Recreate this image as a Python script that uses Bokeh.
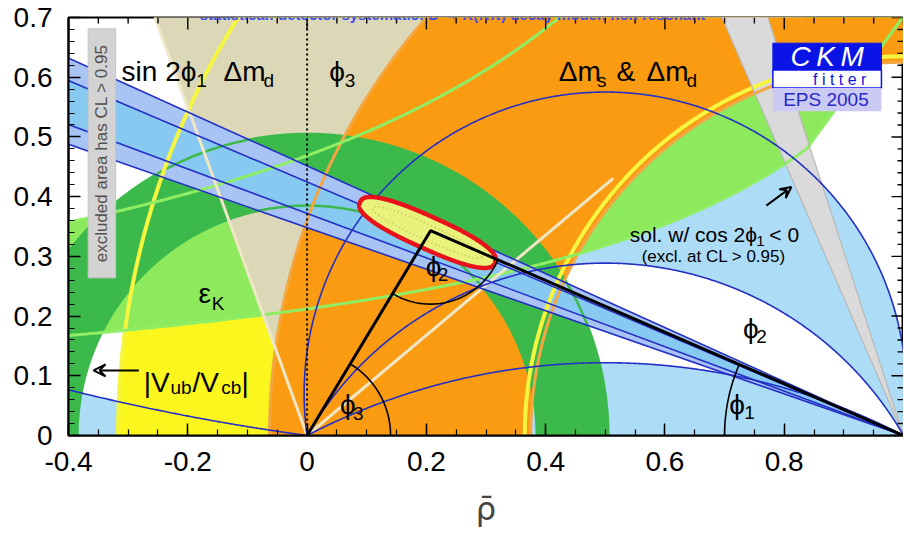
import numpy as np
from bokeh.plotting import figure
from bokeh.models import (Range1d, FixedTicker, Arrow, VeeHead, Label,
                          CustomJSTickFormatter, ColumnDataSource)
from bokeh.core.properties import value
from bokeh.embed import file_html
from bokeh.resources import INLINE

FONT = "Liberation Sans"
BORDER_L, BORDER_T, BORDER_B = 68, 17, 104
PLOT_W, PLOT_H = 903, 539
FRAME_W = PLOT_W - BORDER_L
FRAME_H = PLOT_H - BORDER_T - BORDER_B
X0, X1, Y0, Y1 = -0.4, 1.0, 0.0, 0.7

# ---------------- axes ----------------
x_ticks = [-0.4, -0.2, 0.0, 0.2, 0.4, 0.6, 0.8]
x_tick_labels = ["-0.4", "-0.2", "0", "0.2", "0.4", "0.6", "0.8"]
x_minor_step = 0.05
y_ticks = [0.0, 0.1, 0.2, 0.3, 0.4, 0.5, 0.6, 0.7]
y_tick_labels = ["0", "0.1", "0.2", "0.3", "0.4", "0.5", "0.6", "0.7"]
y_minor_step = 0.02

# ---------------- constraints (rho-bar, eta-bar plane) ----------------
vub_center = [0.0, 0.0]          # |Vub/Vcb| ring
vub_radii = [0.385, 0.505]
dmd_center = [1.0, 0.0]          # Delta m_d ring
dmd_radii = [0.635, 1.317]
dms_center = [1.0, 0.0]          # Delta m_s & Delta m_d ring
dms_radii = [0.625, 1.063]
epsk_k = [0.318, 0.600]          # eps_K hyperbolae  eta = k / (a - rho)
epsk_a = [1.50, 1.28]
epsk_edge_rho = [0.830, 0.975]
epsk_edge_eta = [0.470, 0.668]
sin2b_beta_95 = [19.2, 24.3]     # deg, main sin2phi1 solution
sin2b_beta_68 = [20.4, 23.0]
sin2b_alt_beta = [66.5, 72.0]    # cos2phi1 < 0 solution (grey)
phi3_deg = [40.0, 110.0]         # phi3 wedge at the origin
phi3_inner_len = 0.67
phi2_arcs_deg = [7.7, 82.0, 120.0, 152.6]   # phi2 (alpha) boundaries
apex = [0.207, 0.343]
fit_center = [0.202, 0.340]
fit_axes = [0.124, 0.027]
fit_inner_axes = [0.100, 0.013]
fit_tilt_deg = -24.2
arc_radius_phi1, arc_radius_phi2, arc_radius_phi3 = 0.30, 0.123, 0.14

# colours
C_LBLUE = "#ADDCF6"
C_YELLOW = "#FAF61E"
C_LGREEN = "#8DEA5C"
C_BEIGE = "#DCD7B6"
C_ORANGE = "#FA9B12"
C_DGREEN = "#3CB94B"
C_GREY = "#DADADA"
C_BAND95 = "#A8C4F5"
C_BAND68 = "#88C9F2"
C_DBLUE = "#2430C4"


def circle_pts(cx, cy, r, t0=0.0, t1=2 * np.pi, n=720):
    t = np.linspace(t0, t1, n)
    return cx + r * np.cos(t), cy + r * np.sin(t)


def ring_poly(center, radii):
    xo, yo = circle_pts(center[0], center[1], radii[1])
    xi, yi = circle_pts(center[0], center[1], radii[0])
    return ([[[xo.tolist(), xi[::-1].tolist()]]], [[[yo.tolist(), yi[::-1].tolist()]]])


def alpha_circle(alpha_deg):
    a = np.radians(alpha_deg)
    c = 0.5 / np.tan(a)
    R = 0.5 / np.sin(a)
    ts = np.arctan2(-c, 0.5)
    return c, R, ts


def alpha_arc(alpha_deg, t_from=None, n=800):
    c, R, ts = alpha_circle(alpha_deg)
    t0 = ts if t_from is None else t_from
    t = np.linspace(t0, np.pi - ts, n)
    return 0.5 + R * np.cos(t), c + R * np.sin(t)


def wedge_from_b(b0, b1, L=2.5):
    r0, r1 = np.radians([b0, b1])
    return [1.0, 1 - L * np.cos(r0), 1 - L * np.cos(r1)], [0.0, L * np.sin(r0), L * np.sin(r1)]


def superellipse(center, axes, tilt_deg, expo=2.5, n=400):
    t = np.linspace(0, 2 * np.pi, n)
    c, s = np.cos(t), np.sin(t)
    u = axes[0] * np.sign(c) * np.abs(c) ** (2 / expo)
    v = axes[1] * np.sign(s) * np.abs(s) ** (2 / expo)
    th = np.radians(tilt_deg)
    return (center[0] + u * np.cos(th) - v * np.sin(th),
            center[1] + u * np.sin(th) + v * np.cos(th))


p = figure(width=PLOT_W, height=PLOT_H,
           x_range=Range1d(X0, X1), y_range=Range1d(Y0, Y1),
           output_backend="svg", toolbar_location=None, title=None,
           min_border_left=BORDER_L, min_border_right=0, min_border_top=BORDER_T,
           min_border_bottom=BORDER_B,
           background_fill_color="white", border_fill_color="white")
p.outline_line_color = "black"
p.outline_line_width = 2
p.grid.visible = False

# ---------------- filled regions ----------------
a_small, a_A, a_B, a_C = phi2_arcs_deg
xA, yA = alpha_arc(a_A)
xB, yB = alpha_arc(a_B)
xC, yC = alpha_arc(a_C)
xD, yD = alpha_arc(a_small, t_from=np.radians(238.0))
lb_xs = [np.concatenate([xA, xB[::-1]]).tolist(),
         np.concatenate([xC, [1.0]]).tolist(),
         np.concatenate([xD, [xD[0]]]).tolist()]
lb_ys = [np.concatenate([yA, yB[::-1]]).tolist(),
         np.concatenate([yC, [0.0]]).tolist(),
         np.concatenate([yD, [0.0]]).tolist()]
p.patches(lb_xs, lb_ys, fill_color=C_LBLUE, line_color=None)

rx, ry = ring_poly(dmd_center, dmd_radii)
p.multi_polygons(rx, ry, fill_color=C_YELLOW, line_color=None)

kL, kU = epsk_k
aL, aU = epsk_a
x_left, y_cap = -0.6, 0.8
xu = np.linspace(x_left, aU - kU / y_cap, 400)
yu = kU / (aU - xu)
m_edge = (epsk_edge_eta[1] - epsk_edge_eta[0]) / (epsk_edge_rho[1] - epsk_edge_rho[0])
x_edge_top = epsk_edge_rho[0] + (y_cap - epsk_edge_eta[0]) / m_edge
xs_scan = np.linspace(0.5, 1.0, 20001)
fdiff = epsk_edge_eta[0] + m_edge * (xs_scan - epsk_edge_rho[0]) - kL / (aL - xs_scan)
i_int = np.where(np.diff(np.sign(fdiff)) != 0)[0][0]
x_int = xs_scan[i_int]
y_int = kL / (aL - x_int)
xl = np.linspace(x_int, x_left, 400)
yl = kL / (aL - xl)
ek_x = np.concatenate([xu, [x_edge_top], [x_int], xl])
ek_y = np.concatenate([yu, [y_cap], [y_int], yl])
p.patch(ek_x, ek_y, fill_color=C_LGREEN, line_color=None)

g0, g1 = np.radians(phi3_deg)
Lg = 2.5
p.patch([0, Lg * np.cos(g0), Lg * np.cos(g1)], [0, Lg * np.sin(g0), Lg * np.sin(g1)],
        fill_color=C_BEIGE, line_color=None)

rx, ry = ring_poly(dms_center, dms_radii)
p.multi_polygons(rx, ry, fill_color=C_ORANGE, line_color=None)

rx, ry = ring_poly(vub_center, vub_radii)
p.multi_polygons(rx, ry, fill_color=C_DGREEN, line_color=None)

wx, wy = wedge_from_b(*sin2b_alt_beta)
p.patch(wx, wy, fill_color=C_GREY, line_color=None)

wx, wy = wedge_from_b(*sin2b_beta_95)
p.patch(wx, wy, fill_color=C_BAND95, line_color=None)
wx, wy = wedge_from_b(*sin2b_beta_68)
p.patch(wx, wy, fill_color=C_BAND68, line_color=None)

# ---------------- boundary lines ----------------
for r in vub_radii:
    cx_, cy_ = circle_pts(vub_center[0], vub_center[1], r)
    p.line(cx_, cy_, line_color=C_DGREEN, line_width=2.5)
for r in dms_radii:
    cx_, cy_ = circle_pts(dms_center[0], dms_center[1], r)
    p.line(cx_, cy_, line_color="#F4A640", line_width=3)
for r in dmd_radii:
    cx_, cy_ = circle_pts(dmd_center[0], dmd_center[1], r)
    p.line(cx_, cy_, line_color="#F6F640", line_width=4)
p.line(xu, yu, line_color="#90EE64", line_width=3)
p.line(xl, yl, line_color="#90EE64", line_width=3)
p.line([x_int, x_edge_top], [y_int, y_cap], line_color="#90EE64", line_width=3)

p.line([0, Lg * np.cos(g1)], [0, Lg * np.sin(g1)], line_color="#EFE6C6", line_width=3)
p.line([0, phi3_inner_len * np.cos(g0)], [0, phi3_inner_len * np.sin(g0)],
       line_color="#EFE6C6", line_width=3)

for b in sin2b_alt_beta:
    bx, by = wedge_from_b(b, b)
    p.line(bx[:2], by[:2], line_color="#B8B8B8", line_width=1.2)

for b in sin2b_beta_95 + sin2b_beta_68:
    bx, by = wedge_from_b(b, b)
    p.line(bx[:2], by[:2], line_color=C_DBLUE, line_width=1.6)

for ax_, ay_ in [(xA, yA), (xB, yB), (xC, yC), (xD, yD)]:
    p.line(ax_, ay_, line_color=C_DBLUE, line_width=1.6)

# ---------------- global fit ----------------
ex, ey = superellipse(fit_center, fit_axes, fit_tilt_deg)
p.patch(ex, ey, fill_color="#E9F27C", line_color="#E8121C", line_width=4.5)
ix, iy = superellipse(fit_center, fit_inner_axes, fit_tilt_deg, expo=2.2)
p.line(ix, iy, line_color="#B5C24E", line_width=1.5, line_dash="1 3")

p.line([0, apex[0], 1.0], [0, apex[1], 0], line_color="black", line_width=3)
ang_apex = np.arctan2(apex[1], apex[0])
ax1, ay1 = circle_pts(0, 0, arc_radius_phi3, 0, ang_apex, 100)
p.line(ax1, ay1, line_color="black", line_width=1.6)
t_to_o = np.arctan2(-apex[1], -apex[0]) + 2 * np.pi
t_to_1 = np.arctan2(-apex[1], 1 - apex[0]) + 2 * np.pi
ax2, ay2 = circle_pts(apex[0], apex[1], arc_radius_phi2, t_to_o, t_to_1, 100)
p.line(ax2, ay2, line_color="black", line_width=1.6)
t_b = np.arctan2(apex[1], apex[0] - 1.0)
ax3, ay3 = circle_pts(1.0, 0.0, arc_radius_phi1, t_b, np.pi, 100)
p.line(ax3, ay3, line_color="black", line_width=1.6)

p.line([0, 0], [0, 0.7], line_color="black", line_width=2, line_dash="2 3")

# ---------------- decorations ----------------
note_box = [-0.367, -0.321, 0.264, 0.681]
p.quad(left=note_box[0], right=note_box[1], bottom=note_box[2], top=note_box[3],
       fill_color="#D3D3D3", line_color="#C4C4C4")

logo_left, logo_right = 0.781, 0.963
logo_levels = [0.543, 0.582, 0.612, 0.657]
p.quad(left=logo_left, right=logo_right, bottom=logo_levels[2], top=logo_levels[3],
       fill_color="#0A14E6", line_color="#0A14E6")
p.quad(left=logo_left, right=logo_right, bottom=logo_levels[1], top=logo_levels[2],
       fill_color="white", line_color="#0A14E6", line_width=1.5)
p.quad(left=logo_left, right=logo_right, bottom=logo_levels[0], top=logo_levels[1],
       fill_color="#CACAF2", line_color=None)


def put(texts, xs, ys, size, color="black", align="left", baseline="alphabetic",
        angle=0.0, style="normal", font=FONT):
    src = ColumnDataSource(dict(x=xs, y=ys, t=texts))
    p.text(x="x", y="y", text="t", source=src, text_font=value(font),
           text_font_size=value(f"{size}px"), text_color=color, text_align=align,
           text_baseline=baseline, angle=angle, text_font_style=style)


PHI = "\u03d5"
main_txt = ["sin 2" + PHI, "\u0394m", PHI, "\u0394m", "&", "\u0394m", "\u03b5",
            "|V", "/V", "|", PHI, PHI, PHI, PHI]
main_x = [-0.311, -0.140, 0.037, 0.422, 0.519, 0.569, -0.182,
          -0.274, -0.192, -0.110, 0.199, 0.055, 0.731, 0.708]
main_y = [0.609, 0.609, 0.609, 0.609, 0.609, 0.609, 0.237,
          0.0886, 0.0886, 0.0886, 0.283, 0.052, 0.179, 0.052]
put(main_txt, main_x, main_y, 28)

sub_txt = ["1", "d", "3", "s", "d", "K", "ub", "cb", "2", "3", "2", "1"]
sub_x = [-0.186, -0.073, 0.063, 0.486, 0.636, -0.160, -0.229, -0.144, 0.219, 0.077, 0.753, 0.733]
sub_y = [0.594, 0.594, 0.594, 0.594, 0.594, 0.221, 0.080, 0.080, 0.269, 0.037, 0.166, 0.038]
put(sub_txt, sub_x, sub_y, 19)

put(["sol. w/ cos 2" + PHI, "< 0"], [0.541, 0.775], [0.336, 0.336], 21)
put(["1"], [0.753], [0.326], 15)
put(["(excl. at CL > 0.95)"], [0.561], [0.299], 17)
put(["excluded area has CL > 0.95"], [-0.344], [0.4725], 17, color="#505050",
    align="center", baseline="middle", angle=np.pi / 2)

put(["C\u2009K\u2009M"], [0.872], [0.634], 28, color="white", align="center",
    baseline="middle", style="italic")
put(["f i t t e r"], [0.893], [0.596], 16, color="#1414D8", align="center", baseline="middle")
put(["EPS 2005"], [0.870], [0.562], 19, color="#2828C8", align="center", baseline="middle")

p.add_layout(Arrow(end=VeeHead(size=12, line_width=2, fill_color=None), x_start=-0.282,
                   y_start=0.109, x_end=-0.358, y_end=0.109, line_width=2))
p.add_layout(Arrow(end=VeeHead(size=11, line_width=2, fill_color=None), x_start=0.770,
                   y_start=0.385, x_end=0.812, y_end=0.416, line_width=2))

# title strip (cropped in the original); screen units are frame-relative
p.add_layout(Label(x=384, y=FRAME_H + 3, x_units="screen", y_units="screen",
                   text="statistical: detector systematic: D \u2192 K(\u03c0\u03c0) decay model: non resonant",
                   text_font=FONT, text_font_size="15px", text_font_style="bold",
                   text_color="#3C4BEF", text_baseline="alphabetic", text_align="center"))

# ---------------- axes styling ----------------
LABEL_JS = """
let best = 0, bd = Infinity;
for (let i = 0; i < tvals.length; i++) {
  const d = Math.abs(tvals[i] - tick);
  if (d < bd) { bd = d; best = i; }
}
return tlabels[best];
"""
x_minor = np.round(np.arange(-0.4, 1.0001, x_minor_step), 3).tolist()
y_minor = np.round(np.arange(0.0, 0.7001, y_minor_step), 3).tolist()
MAJ_PX, MIN_PX = 12, 6


def style_axis(ax, ticks, minor, labels, standoff):
    ax.ticker = FixedTicker(ticks=ticks, minor_ticks=minor)
    ax.major_tick_in = MAJ_PX
    ax.major_tick_out = 0
    ax.minor_tick_in = MIN_PX
    ax.minor_tick_out = 0
    ax.major_tick_line_width = 1.5
    ax.minor_tick_line_width = 1.2
    ax.axis_line_width = 2
    ax.formatter = CustomJSTickFormatter(args=dict(tvals=ticks, tlabels=labels), code=LABEL_JS)
    ax.major_label_text_font = FONT
    ax.major_label_text_font_size = "28px"
    ax.major_label_text_color = "black"
    ax.major_label_standoff = standoff


xb = p.below[0]
style_axis(xb, x_ticks, x_minor, x_tick_labels, 16)
xb.axis_label = "\u03c1\u0304"
xb.axis_label_text_font = "DejaVu Sans"
xb.axis_label_text_font_size = "32px"
xb.axis_label_text_font_style = "normal"
xb.axis_label_standoff = 16
style_axis(p.left[0], y_ticks, y_minor, y_tick_labels, 16)

# mirrored ticks on the top and right edges (lengths converted from pixels)
px_x = (X1 - X0) / FRAME_W
px_y = (Y1 - Y0) / FRAME_H
xminor_only = [v for v in x_minor if min(abs(v - t) for t in x_ticks) > 1e-6 and v <= X1]
yminor_only = [v for v in y_minor if min(abs(v - t) for t in y_ticks) > 1e-6]
top_x = list(x_ticks) + xminor_only
top_len = [MAJ_PX * px_y] * len(x_ticks) + [MIN_PX * px_y] * len(xminor_only)
p.segment(x0=top_x, y0=[Y1] * len(top_x), x1=top_x, y1=[Y1 - d for d in top_len],
          line_color="black", line_width=1.4)
right_y = list(y_ticks) + yminor_only
right_len = [MAJ_PX * px_x] * len(y_ticks) + [MIN_PX * px_x] * len(yminor_only)
p.segment(x0=[X1] * len(right_y), y0=right_y, x1=[X1 - d for d in right_len], y1=right_y,
          line_color="black", line_width=1.4)

open("out.html", "w").write(file_html(p, INLINE))
